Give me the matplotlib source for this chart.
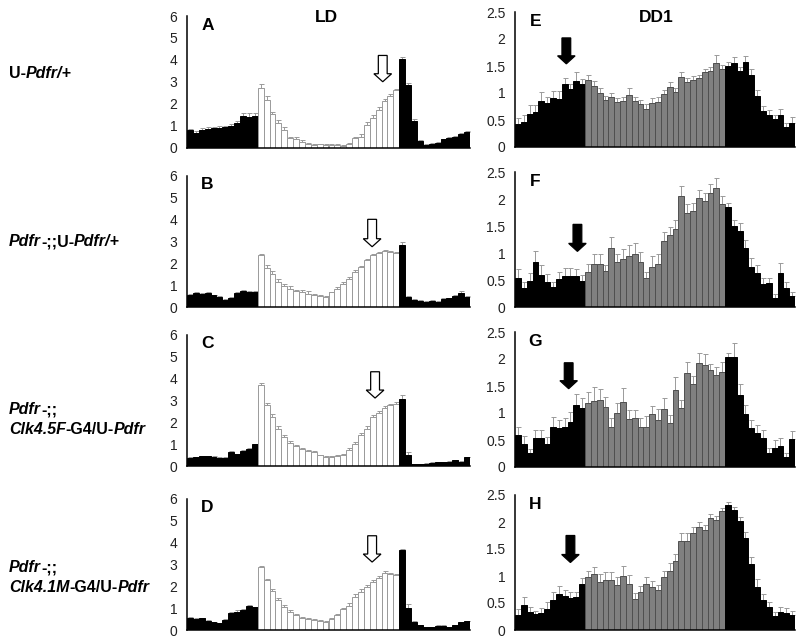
import numpy as np
import matplotlib
matplotlib.use('Agg')
import matplotlib.pyplot as plt
from matplotlib.transforms import IdentityTransform

plt.rcParams['font.family'] = ['Liberation Sans', 'DejaVu Sans']

# ---------------- data (48 half-hour bins) ----------------
bins = np.arange(48)
ld_phase = ['dark'] * 12 + ['light'] * 24 + ['dark'] * 12
dd_phase = ['dark'] * 12 + ['subj'] * 24 + ['dark'] * 12

A_vals = [0.78, 0.68, 0.80, 0.84, 0.87, 0.90, 0.92, 0.96, 1.10, 1.43, 1.40, 1.43,
          2.71, 2.19, 1.51, 1.14, 0.82, 0.43, 0.40, 0.27, 0.15, 0.12, 0.15, 0.12,
          0.11, 0.11, 0.08, 0.15, 0.44, 0.50, 1.03, 1.34, 1.70, 2.13, 2.36, 2.63,
          4.02, 2.85, 1.22, 0.30, 0.12, 0.18, 0.21, 0.37, 0.43, 0.49, 0.61, 0.72]
A_err = [0.08, 0.08, 0.08, 0.08, 0.08, 0.08, 0.08, 0.10, 0.12, 0.15, 0.18, 0.15,
         0.20, 0.15, 0.10, 0.10, 0.10, 0.05, 0.10, 0.05, 0.05, 0.03, 0.03, 0.03,
         0.03, 0.03, 0.03, 0.05, 0.05, 0.10, 0.12, 0.15, 0.15, 0.10, 0.10, 0.05,
         0.12, 0.10, 0.08, 0.05, 0.03, 0.03, 0.03, 0.03, 0.03, 0.03, 0.03, 0.05]

B_vals = [0.55, 0.62, 0.61, 0.64, 0.53, 0.46, 0.33, 0.41, 0.64, 0.72, 0.67, 0.68,
          2.39, 1.80, 1.52, 1.14, 0.94, 0.84, 0.72, 0.68, 0.61, 0.53, 0.49, 0.46,
          0.67, 0.84, 1.07, 1.29, 1.60, 1.83, 2.13, 2.36, 2.47, 2.56, 2.51, 2.47,
          2.85, 0.46, 0.33, 0.27, 0.24, 0.27, 0.24, 0.37, 0.40, 0.49, 0.64, 0.46]
B_err = [0.05, 0.05, 0.03, 0.06, 0.04, 0.03, 0.03, 0.03, 0.05, 0.05, 0.05, 0.05,
         0.05, 0.12, 0.12, 0.12, 0.12, 0.10, 0.06, 0.10, 0.10, 0.06, 0.05, 0.03,
         0.03, 0.05, 0.08, 0.08, 0.08, 0.05, 0.05, 0.05, 0.03, 0.03, 0.03, 0.03,
         0.10, 0.05, 0.03, 0.03, 0.03, 0.03, 0.03, 0.03, 0.03, 0.05, 0.10, 0.05]

C_vals = [0.38, 0.40, 0.44, 0.44, 0.41, 0.37, 0.38, 0.64, 0.53, 0.68, 0.79, 0.99,
          3.68, 2.77, 2.24, 1.70, 1.32, 1.05, 0.90, 0.79, 0.68, 0.64, 0.49, 0.41,
          0.41, 0.46, 0.49, 0.72, 0.99, 1.40, 1.70, 2.24, 2.42, 2.66, 2.77, 2.85,
          3.07, 0.49, 0.08, 0.08, 0.11, 0.14, 0.17, 0.17, 0.20, 0.26, 0.20, 0.41]
C_err = [0.03, 0.03, 0.03, 0.03, 0.03, 0.03, 0.03, 0.03, 0.03, 0.03, 0.03, 0.03,
         0.10, 0.10, 0.12, 0.12, 0.10, 0.08, 0.05, 0.05, 0.05, 0.03, 0.03, 0.03,
         0.03, 0.03, 0.05, 0.08, 0.10, 0.10, 0.12, 0.10, 0.10, 0.08, 0.08, 0.08,
         0.18, 0.15, 0.02, 0.02, 0.02, 0.02, 0.02, 0.02, 0.02, 0.02, 0.02, 0.02]

D_vals = [0.55, 0.50, 0.53, 0.41, 0.35, 0.30, 0.46, 0.76, 0.84, 0.91, 1.10, 1.03,
          2.86, 2.28, 1.78, 1.37, 1.07, 0.84, 0.68, 0.53, 0.50, 0.46, 0.41, 0.38,
          0.50, 0.68, 0.94, 1.11, 1.52, 1.75, 1.98, 2.21, 2.39, 2.62, 2.54, 2.51,
          3.65, 0.99, 0.38, 0.23, 0.12, 0.12, 0.20, 0.20, 0.12, 0.23, 0.35, 0.41]
D_err = [0.03, 0.03, 0.03, 0.03, 0.03, 0.03, 0.05, 0.05, 0.05, 0.05, 0.03, 0.03,
         0.05, 0.05, 0.10, 0.10, 0.08, 0.08, 0.05, 0.05, 0.05, 0.03, 0.03, 0.03,
         0.03, 0.05, 0.08, 0.10, 0.10, 0.10, 0.08, 0.08, 0.08, 0.05, 0.05, 0.05,
         0.05, 0.20, 0.05, 0.02, 0.02, 0.02, 0.02, 0.02, 0.02, 0.02, 0.02, 0.02]

E_vals = [0.42, 0.47, 0.62, 0.64, 0.86, 0.81, 0.91, 0.88, 1.17, 1.07, 1.23, 1.16,
          1.24, 1.13, 1.00, 0.87, 0.92, 0.83, 0.85, 0.97, 0.85, 0.79, 0.71, 0.81,
          0.83, 0.98, 1.12, 1.02, 1.29, 1.21, 1.24, 1.27, 1.38, 1.41, 1.56, 1.44,
          1.50, 1.56, 1.41, 1.58, 1.34, 0.94, 0.66, 0.60, 0.51, 0.60, 0.37, 0.45]
E_err = [0.12, 0.12, 0.15, 0.13, 0.15, 0.12, 0.12, 0.15, 0.10, 0.10, 0.15, 0.10,
         0.10, 0.10, 0.10, 0.08, 0.08, 0.08, 0.08, 0.12, 0.08, 0.08, 0.08, 0.10,
         0.10, 0.08, 0.08, 0.07, 0.10, 0.07, 0.07, 0.07, 0.07, 0.07, 0.15, 0.08,
         0.08, 0.10, 0.08, 0.10, 0.10, 0.12, 0.10, 0.08, 0.08, 0.10, 0.08, 0.10]

F_vals = [0.53, 0.36, 0.48, 0.83, 0.60, 0.47, 0.37, 0.52, 0.57, 0.57, 0.58, 0.49,
          0.64, 0.80, 0.79, 0.66, 1.09, 0.83, 0.89, 0.95, 0.99, 0.83, 0.54, 0.74,
          0.80, 1.23, 1.34, 1.44, 2.06, 1.75, 1.77, 2.01, 1.96, 2.12, 2.21, 1.90,
          1.85, 1.50, 1.41, 1.10, 0.75, 0.63, 0.43, 0.44, 0.17, 0.63, 0.36, 0.20]
F_err = [0.18, 0.10, 0.15, 0.20, 0.18, 0.15, 0.10, 0.12, 0.15, 0.15, 0.12, 0.10,
         0.15, 0.18, 0.20, 0.12, 0.20, 0.15, 0.18, 0.20, 0.20, 0.18, 0.10, 0.20,
         0.18, 0.15, 0.15, 0.18, 0.18, 0.15, 0.15, 0.15, 0.15, 0.15, 0.18, 0.15,
         0.08, 0.12, 0.15, 0.15, 0.15, 0.15, 0.10, 0.10, 0.08, 0.18, 0.10, 0.08]

G_vals = [0.60, 0.43, 0.26, 0.54, 0.54, 0.43, 0.74, 0.72, 0.75, 0.84, 1.15, 1.09,
          1.18, 1.23, 1.24, 1.12, 0.75, 1.00, 1.21, 0.88, 0.91, 0.75, 0.74, 0.98,
          0.87, 1.07, 0.81, 1.42, 1.09, 1.74, 1.53, 1.92, 1.89, 1.79, 1.71, 1.76,
          2.04, 2.04, 1.34, 0.99, 0.72, 0.63, 0.53, 0.26, 0.35, 0.39, 0.18, 0.52]
G_err = [0.15, 0.15, 0.08, 0.15, 0.15, 0.12, 0.18, 0.15, 0.15, 0.18, 0.20, 0.18,
         0.20, 0.25, 0.20, 0.18, 0.15, 0.18, 0.25, 0.18, 0.15, 0.15, 0.20, 0.15,
         0.20, 0.20, 0.15, 0.25, 0.15, 0.20, 0.15, 0.20, 0.20, 0.12, 0.15, 0.18,
         0.08, 0.25, 0.20, 0.15, 0.15, 0.15, 0.15, 0.10, 0.15, 0.15, 0.08, 0.15]

H_vals = [0.27, 0.46, 0.34, 0.29, 0.31, 0.39, 0.55, 0.67, 0.63, 0.60, 0.61, 0.85,
          0.98, 1.04, 0.89, 0.92, 0.93, 0.83, 1.00, 0.86, 0.58, 0.71, 0.86, 0.80,
          0.74, 0.99, 1.10, 1.28, 1.65, 1.64, 1.79, 1.90, 1.85, 2.07, 2.04, 2.21,
          2.31, 2.23, 2.01, 1.71, 1.23, 0.79, 0.56, 0.42, 0.26, 0.33, 0.31, 0.27]
H_err = [0.12, 0.15, 0.08, 0.06, 0.10, 0.12, 0.15, 0.15, 0.12, 0.10, 0.10, 0.12,
         0.12, 0.12, 0.15, 0.15, 0.15, 0.15, 0.18, 0.15, 0.10, 0.10, 0.12, 0.10,
         0.10, 0.10, 0.15, 0.12, 0.15, 0.15, 0.12, 0.10, 0.10, 0.08, 0.08, 0.05,
         0.06, 0.05, 0.08, 0.10, 0.12, 0.15, 0.10, 0.10, 0.08, 0.10, 0.10, 0.08]

ld_ticks = [0, 1, 2, 3, 4, 5, 6]
ld_ticklabels = ['0', '1', '2', '3', '4', '5', '6']
dd_ticks = [0, 0.5, 1, 1.5, 2, 2.5]
dd_ticklabels = ['0', '0.5', '1', '1.5', '2', '2.5']

panel_letters_ld = ['A', 'B', 'C', 'D']
panel_letters_dd = ['E', 'F', 'G', 'H']
ld_data = [(A_vals, A_err), (B_vals, B_err), (C_vals, C_err), (D_vals, D_err)]
dd_data = [(E_vals, E_err), (F_vals, F_err), (G_vals, G_err), (H_vals, H_err)]

# arrow annotations: (bin index, top value, tip value)
ld_arrows = [(32.7, 4.2, 3.0), (30.9, 4.0, 2.75), (31.4, 4.3, 3.1), (30.9, 4.3, 3.1)]
dd_arrows = [(8.3, 2.02, 1.54), (10.2, 1.53, 1.03), (8.7, 1.93, 1.45), (9.0, 1.75, 1.25)]

row_labels = [
    [[('U-', False), ('Pdfr/+', True)]],
    [[('Pdfr', True), ('-;;U-', False), ('Pdfr/+', True)]],
    [[('Pdfr', True), ('-;;', False)],
     [('Clk4.5F', True), ('-G4/U-', False), ('Pdfr', True)]],
    [[('Pdfr', True), ('-;;', False)],
     [('Clk4.1M', True), ('-G4/U-', False), ('Pdfr', True)]],
]

# ---------------- styling ----------------
W, H = 800, 639
fig = plt.figure(figsize=(W / 100, H / 100), dpi=100)

ld_base = [147.5, 307, 466, 630]
dd_base = [147, 307, 467, 630]
ld_h = 131.5
dd_h = 135

styles = {
    'dark': dict(fc='black', ec='black'),
    'light': dict(fc='white', ec='#9a9a9a'),
    'subj': dict(fc='#808080', ec='#505050'),
}


def make_axes(x0, x1, base, h):
    return fig.add_axes([x0 / W, 1 - base / H, (x1 - x0) / W, h / H])


def draw_panel(ax, vals, err, phase, ylim, ticks, ticklabels, letter, arrow, open_arrow):
    vals = np.asarray(vals)
    err = np.asarray(err)
    fcs = [styles[p]['fc'] for p in phase]
    ecs = [styles[p]['ec'] for p in phase]
    ax.errorbar(bins, vals, yerr=[np.zeros_like(err), err], fmt='none',
                ecolor='#9a9a9a', elinewidth=0.7, capsize=1.8, capthick=0.7, zorder=1)
    ax.bar(bins, vals, width=1.0, color=fcs, edgecolor=ecs, linewidth=0.7, zorder=2)
    ax.set_xlim(-0.5, 47.5)
    ax.set_ylim(*ylim)
    ax.set_yticks(ticks)
    ax.set_yticklabels(ticklabels)
    ax.set_xticks([])
    ax.tick_params(axis='y', length=0, pad=7, labelsize=10, labelcolor='#222222')
    for s in ['top', 'right']:
        ax.spines[s].set_visible(False)
    for s in ['left', 'bottom']:
        ax.spines[s].set_linewidth(1.1)
        ax.spines[s].set_color('black')
        ax.spines[s].set_zorder(3)
    ax.patch.set_visible(False)
    ax.text(0.072, 0.93, letter, transform=ax.transAxes, ha='center', va='center',
            fontsize=12.5, fontweight='bold')
    bx, ytop, ytip = arrow
    span = ylim[1] - ylim[0]
    hl = 8 / (ld_h if open_arrow else dd_h) * span
    ax.arrow(bx, ytop, 0, -(ytop - ytip), width=1.5, head_width=3.0, head_length=hl,
             length_includes_head=True, fc='white' if open_arrow else 'black',
             ec='black', lw=0.9, zorder=4, clip_on=False)


for i in range(4):
    axl = make_axes(187, 470, ld_base[i], ld_h)
    draw_panel(axl, ld_data[i][0], ld_data[i][1], ld_phase, (0, 6), ld_ticks, ld_ticklabels,
               panel_letters_ld[i], ld_arrows[i], True)
    axr = make_axes(515, 795, dd_base[i], dd_h)
    draw_panel(axr, dd_data[i][0], dd_data[i][1], dd_phase, (0, 2.5), dd_ticks, dd_ticklabels,
               panel_letters_dd[i], dd_arrows[i], False)

fig.text(326 / W, 1 - 18 / H, 'LD', ha='center', va='center', fontsize=12.5, fontweight='bold')
fig.text(656 / W, 1 - 18 / H, 'DD1', ha='center', va='center', fontsize=12.5, fontweight='bold')

# ---------------- row labels with mixed italic ----------------
renderer = fig.canvas.get_renderer()
row_y = [[73], [242], [410, 429], [568, 588]]
for lines, ys in zip(row_labels, row_y):
    for parts, y in zip(lines, ys):
        xpix = 9
        for s, ital in parts:
            t = fig.text(xpix, H - y, s, transform=IdentityTransform(), ha='left', va='center',
                         fontsize=11.5, fontweight='bold', fontstyle='italic' if ital else 'normal')
            bb = t.get_window_extent(renderer)
            xpix = bb.x1

fig.savefig('out.png', dpi=100)
